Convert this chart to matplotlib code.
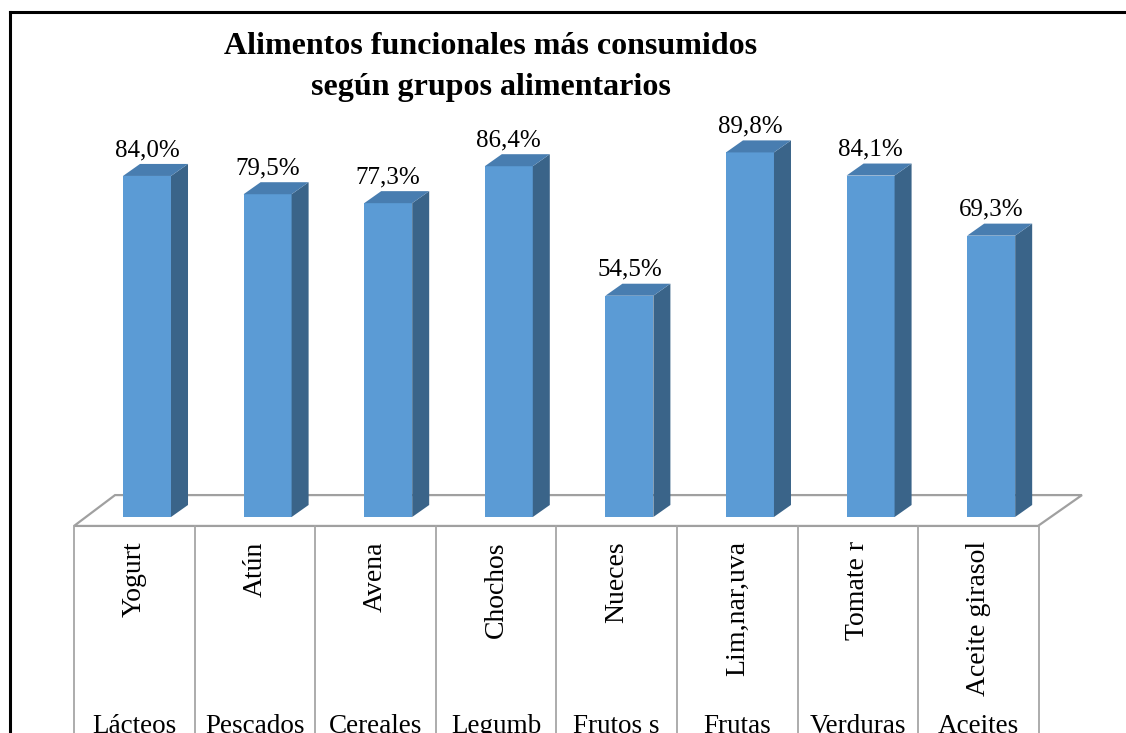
import matplotlib.pyplot as plt
from matplotlib.patches import Polygon
from matplotlib.lines import Line2D

# Datos
alimentos = ['Yogurt', 'Atún', 'Avena', 'Chochos', 'Nueces', 'Lim,nar,uva', 'Tomate r', 'Aceite girasol']
grupos = ['Lácteos', 'Pescados', 'Cereales', 'Legumb', 'Frutos s', 'Frutas', 'Verduras', 'Aceites']
porcentajes = [84.0, 79.5, 77.3, 86.4, 54.5, 89.8, 84.1, 69.3]
titulo = ['Alimentos funcionales más consumidos', 'según grupos alimentarios']

plt.rcParams['font.family'] = ['Liberation Serif', 'DejaVu Serif']

fig = plt.figure(figsize=(11.26, 7.33), dpi=100)
ax = fig.add_axes([0, 0, 1, 1])
ax.set_xlim(-1.219, 8.118)
ax.set_ylim(-53.2, 127.34)
ax.axis('off')

# Colores de las caras de la barra 3D
c_front = '#5B9BD5'
c_side = '#3A6489'
c_top = '#487DB0'

ancho = 0.199   # media anchura de la barra
dx = 0.141      # profundidad en x
dy = 2.96       # profundidad en y

# Piso
fl, fb = -2.2, 5.4
piso = Polygon([(-0.605, fl), (7.388, fl), (7.753, fb), (-0.265, fb)],
               closed=True, facecolor='white', edgecolor='#A0A0A0', lw=1.6, zorder=1)
ax.add_patch(piso)

# Tabla de categorías
n = len(alimentos)
for i in range(n + 1):
    ax.plot([-0.605 + i, -0.605 + i], [fl, -60], color='#A6A6A6', lw=1.3, zorder=1)
for i in range(n):
    cx = -0.105 + i
    ax.text(cx, -6.0, alimentos[i], rotation=90, ha='center', va='top', fontsize=20)
    ax.text(cx, -48.6, grupos[i], ha='center', va='top', fontsize=19.5)

# Barras 3D
for i, v in enumerate(porcentajes):
    x0, x1 = i - ancho, i + ancho
    frente = Polygon([(x0, 0), (x1, 0), (x1, v), (x0, v)], closed=True,
                     facecolor=c_front, edgecolor='none', zorder=3)
    lado = Polygon([(x1, 0), (x1 + dx, dy), (x1 + dx, v + dy), (x1, v)], closed=True,
                   facecolor=c_side, edgecolor='none', zorder=3)
    tapa = Polygon([(x0, v), (x1, v), (x1 + dx, v + dy), (x0 + dx, v + dy)], closed=True,
                   facecolor=c_top, edgecolor='none', zorder=3)
    ax.add_patch(frente)
    ax.add_patch(lado)
    ax.add_patch(tapa)
    ax.text(i, v + dy + 0.7, f'{v:.1f}%'.replace('.', ','), ha='center', va='bottom',
            fontsize=18, zorder=4)

# Título
fig.text(0.436, 1 - 54 / 733, titulo[0], ha='center', va='baseline', fontsize=23,
         fontweight='bold')
fig.text(0.436, 1 - 95 / 733, titulo[1], ha='center', va='baseline', fontsize=23,
         fontweight='bold')

# Borde del gráfico
fig.add_artist(Line2D([10 / 1126, 10 / 1126], [1 - 12 / 733, 0], color='black', lw=2.2,
                      transform=fig.transFigure))
fig.add_artist(Line2D([10 / 1126, 1], [1 - 12 / 733, 1 - 12 / 733], color='black', lw=2.2,
                      transform=fig.transFigure))

fig.savefig('out.png', dpi=100)
